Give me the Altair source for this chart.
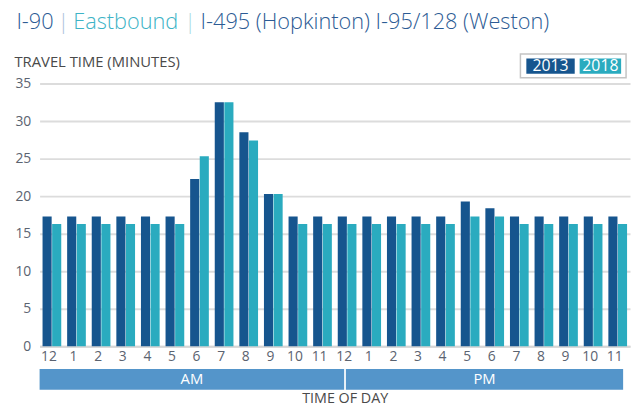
import json
import altair as alt
import pandas as pd

hour_labels = ["12", "1", "2", "3", "4", "5", "6", "7", "8", "9", "10", "11",
               "12", "1", "2", "3", "4", "5", "6", "7", "8", "9", "10", "11"]
years = ["2013", "2018"]
v2013 = [17.3, 17.3, 17.3, 17.3, 17.3, 17.3, 22.3, 32.5, 28.5, 20.3, 17.3, 17.3,
         17.3, 17.3, 17.3, 17.3, 17.3, 19.3, 18.4, 17.3, 17.3, 17.3, 17.3, 17.3]
v2018 = [16.3, 16.3, 16.3, 16.3, 16.3, 16.3, 25.3, 32.5, 27.4, 20.3, 16.3, 16.3,
         16.3, 16.3, 16.3, 16.3, 16.3, 17.3, 17.3, 16.3, 16.3, 16.3, 16.3, 16.3]
y_ticks = [0, 5, 10, 15, 20, 25, 30, 35]
periods = ["AM", "PM"]
period_start = [0, 12.45]
period_end = [12.38, 23.72]

C13 = "#16558e"
C18 = "#2aabbf"
BAND = "#5495ca"
FONT = "Open Sans"

rows = []
for i, lab in enumerate(hour_labels):
    rows.append({"idx": i, "label": lab, "year": "2013", "value": v2013[i]})
    rows.append({"idx": i, "label": lab, "year": "2018", "value": v2018[i]})
df = pd.DataFrame(rows)

W, H = 598, 266

label_expr = json.dumps(hour_labels) + "[datum.value]"

bars = alt.Chart(df).mark_bar().encode(
    x=alt.X("idx:O",
            scale=alt.Scale(paddingInner=0.24, paddingOuter=0.12),
            axis=alt.Axis(labelExpr=label_expr, labelAngle=0, labelFontSize=14,
                          labelColor="#5b6370", labelFont=FONT, labelPadding=3,
                          labelOffset=-3,
                          ticks=False, domain=True, domainColor="#d6d6d6",
                          domainWidth=2,
                          title="TIME OF DAY", titleFont=FONT, titleFontSize=14.5,
                          titleFontWeight="normal", titleColor="#4a4a4a",
                          titleX=309, titleY=53, titleAlign="center",
                          titleBaseline="middle")),
    xOffset=alt.XOffset("year:N", scale=alt.Scale(paddingInner=0.05)),
    y=alt.Y("value:Q",
            scale=alt.Scale(domain=[0, 35]),
            axis=alt.Axis(values=y_ticks, labelFontSize=14, labelColor="#5b6370",
                          labelFont=FONT, labelPadding=9, ticks=False,
                          domain=False, gridColor="#dcdcdc", gridWidth=2,
                          title="TRAVEL TIME (MINUTES)", titleAngle=0,
                          titleAlign="left", titleBaseline="middle",
                          titleX=-26, titleY=-22, titleFont=FONT,
                          titleFontSize=15, titleFontWeight="normal",
                          titleColor="#4a4a4a")),
    color=alt.Color("year:N", scale=alt.Scale(domain=years, range=[C13, C18]),
                    legend=None),
)

band_df = pd.DataFrame({"period": periods, "start": period_start, "end": period_end})
band_df["mid"] = (band_df["start"] + band_df["end"]) / 2
xq = alt.Scale(domain=[0, 24], nice=False, zero=False)

band = alt.Chart(band_df).mark_rect(color=BAND).encode(
    x=alt.X("start:Q", scale=xq, axis=None),
    x2="end:Q",
    y=alt.value(289),
    y2=alt.value(310),
)
band_text = alt.Chart(band_df).mark_text(color="white", font=FONT, fontSize=15,
                                         baseline="middle").encode(
    x=alt.X("mid:Q", scale=xq, axis=None),
    y=alt.value(299.5),
    text="period:N",
)


def txt(s, x, y, color, size, align="left", weight="normal"):
    return alt.Chart(pd.DataFrame({"t": [s]})).mark_text(
        font=FONT, fontSize=size, color=color, align=align, baseline="middle",
        fontWeight=weight,
    ).encode(x=alt.value(x), y=alt.value(y), text="t:N")


def box(x1, x2, y1, y2, fill, stroke=None):
    kw = {"fill": fill}
    if stroke:
        kw["stroke"] = stroke
        kw["strokeWidth"] = 1.5
    return alt.Chart(pd.DataFrame({"a": [0]})).mark_rect(**kw).encode(
        x=alt.value(x1), x2=alt.value(x2), y=alt.value(y1), y2=alt.value(y2))


TY = -62
TS = 22
TW = 300
title_layers = [
    txt("I-90", -23.5, TY, "#2c5b94", TS, weight=TW),
    txt("|", 24, TY, "#aac2dc", TS, align="center", weight=TW),
    txt("Eastbound", 34, TY, "#3db3c6", TS, weight=TW),
    txt("|", 152.5, TY, "#a6dbe3", TS, align="center", weight=TW),
    txt("I-495 (Hopkinton) I-95/128 (Weston)", 163, TY, "#2c5b94", TS, weight=TW),
]

legend_layers = [
    box(487, 594, -30, -6, "white", "#c4c4c4"),
    box(493, 542, -25.5, -10, C13),
    box(547, 589, -25.5, -10, C18),
    txt("2013", 517.5, -17.5, "white", 16, align="center"),
    txt("2018", 568, -17.5, "white", 16, align="center"),
]

chart = alt.layer(bars, band, band_text, *title_layers, *legend_layers).resolve_scale(
    x="independent"
).properties(
    width=W, height=H,
    autosize=alt.AutoSizeParams(type="none"),
    padding={"left": 32, "top": 74, "right": 1, "bottom": 58},
    background="white",
).configure_view(stroke=None)

chart.save("out.html", embed_options={"renderer": "svg", "actions": False})
